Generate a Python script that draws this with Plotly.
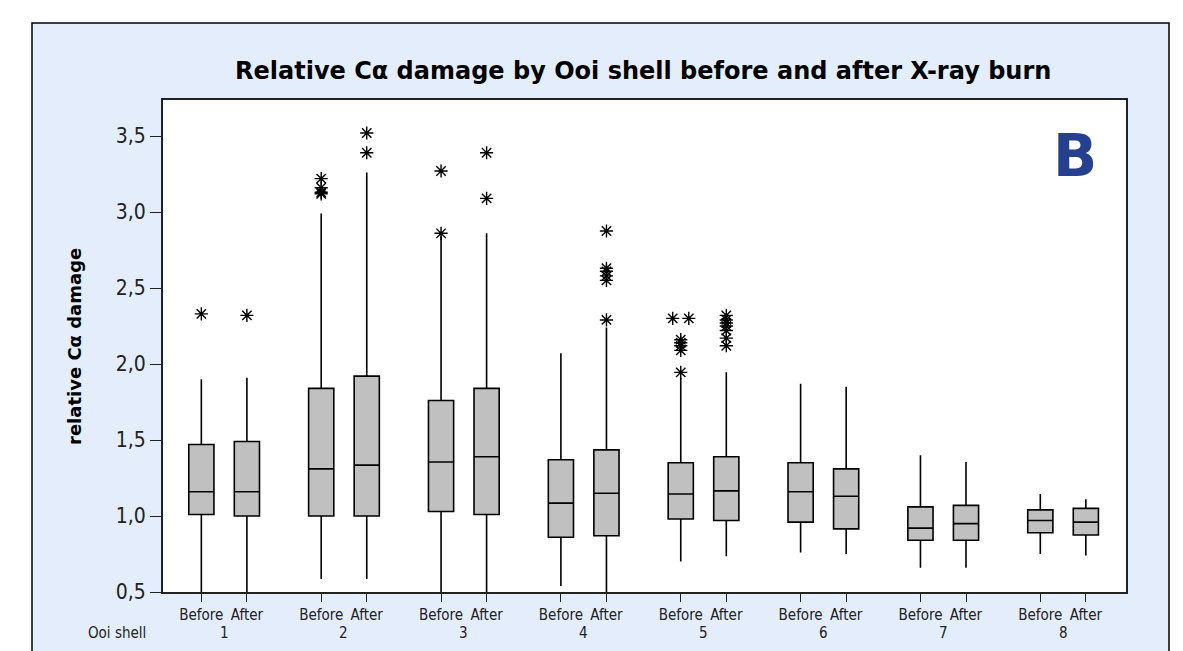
import plotly.graph_objects as go

# ---------------- data ----------------
shells = [1, 2, 3, 4, 5, 6, 7, 8]
group_labels = ["1", "2", "3", "4", "5", "6", "7", "8"]
phase_labels = ["Before", "After"]

before_low = [0.50, 0.585, 0.50, 0.54, 0.70, 0.76, 0.66, 0.75]
before_q1 = [1.01, 1.00, 1.03, 0.86, 0.98, 0.96, 0.84, 0.89]
before_median = [1.16, 1.31, 1.355, 1.085, 1.145, 1.16, 0.92, 0.97]
before_q3 = [1.47, 1.84, 1.76, 1.37, 1.35, 1.35, 1.06, 1.04]
before_high = [1.90, 2.99, 2.84, 2.07, 1.91, 1.87, 1.40, 1.145]

after_low = [0.50, 0.585, 0.50, 0.50, 0.735, 0.75, 0.66, 0.74]
after_q1 = [1.00, 1.00, 1.01, 0.87, 0.97, 0.915, 0.84, 0.875]
after_median = [1.16, 1.335, 1.39, 1.15, 1.165, 1.13, 0.95, 0.96]
after_q3 = [1.49, 1.92, 1.84, 1.435, 1.39, 1.31, 1.07, 1.05]
after_high = [1.91, 3.26, 2.86, 2.24, 1.945, 1.85, 1.355, 1.11]

# outliers: (shell, value, side-by-side slot)
before_out_shell = [1, 2, 2, 2, 2, 3, 3, 5, 5, 5, 5, 5, 5, 5]
before_out_value = [2.33, 3.22, 3.16, 3.13, 3.12, 3.27, 2.86, 2.30, 2.30, 2.16, 2.14, 2.12, 2.09, 1.945]
before_out_slot = [0, 0, 0, 0, 0, 0, 0, -1, 1, 0, 0, 0, 0, 0]

after_out_shell = [1, 2, 2, 3, 3, 4, 4, 4, 4, 4, 4, 5, 5, 5, 5, 5, 5, 5]
after_out_value = [2.32, 3.52, 3.39, 3.39, 3.09, 2.875, 2.63, 2.61, 2.58, 2.55, 2.29,
                   2.32, 2.29, 2.27, 2.25, 2.22, 2.17, 2.12]
after_out_slot = [0] * 18

y_ticks = [0.5, 1.0, 1.5, 2.0, 2.5, 3.0, 3.5]

# ---------------- layout geometry (screen px) ----------------
W, H = 1183, 651
PL, PR, PT, PB = 163, 1126, 100, 592   # plot area in screen px
OFF = 0.19
BOXW = 0.21
XR = [0.49, 8.525]
YR = [0.5, 3.737]


def px(x):
    return (x - PL) / (PR - PL)


def py(y):
    return (PB - y) / (PB - PT)


FONT = "DejaVu Sans"
FONT_C = "DejaVu Sans Condensed, DejaVu Sans"
fig = go.Figure()

box_style = dict(fillcolor="#C0C0C0", line=dict(color="black", width=1.6),
                 width=BOXW, whiskerwidth=0, boxpoints=False, showlegend=False,
                 hoverinfo="skip")

xb = [s - OFF for s in shells]
xa = [s + OFF for s in shells]

fig.add_trace(go.Box(x=xb, q1=before_q1, median=before_median, q3=before_q3,
                     lowerfence=before_low, upperfence=before_high, **box_style))
fig.add_trace(go.Box(x=xa, q1=after_q1, median=after_median, q3=after_q3,
                     lowerfence=after_low, upperfence=after_high, **box_style))

slot_w = 0.067
fig.add_trace(go.Scatter(
    x=[s - OFF + k * slot_w for s, k in zip(before_out_shell, before_out_slot)]
      + [s + OFF + k * slot_w for s, k in zip(after_out_shell, after_out_slot)],
    y=before_out_value + after_out_value,
    mode="markers",
    marker=dict(symbol="asterisk-open", size=11, color="black",
                line=dict(color="black", width=1.4)),
    showlegend=False, hoverinfo="skip"))

tickvals = []
ticktext = []
for s in shells:
    tickvals += [s - OFF, s + OFF]
    ticktext += phase_labels

shapes = [
    dict(type="rect", xref="paper", yref="paper", layer="below",
         x0=px(32), x1=px(1169), y0=py(680), y1=py(23),
         fillcolor="#E3EDFC", line=dict(color="black", width=1.5)),
    dict(type="rect", xref="paper", yref="paper", layer="below",
         x0=0, x1=1, y0=0, y1=1, fillcolor="white", line=dict(width=0)),
]

annotations = [
    dict(text="<b>Relative Cα damage by Ooi shell before and after X-ray burn</b>",
         xref="paper", yref="paper", x=px(643), y=py(71), showarrow=False,
         xanchor="center", yanchor="middle",
         font=dict(family=FONT, size=24, color="black")),
    dict(text="<b>relative Cα damage</b>", textangle=-90,
         xref="paper", yref="paper", x=px(74), y=py(347), showarrow=False,
         xanchor="center", yanchor="middle",
         font=dict(family=FONT, size=18, color="black")),
    dict(text="<b>B</b>", xref="paper", yref="paper", x=px(1075), y=py(156),
         showarrow=False, xanchor="center", yanchor="middle",
         font=dict(family=FONT, size=58, color="#263F8F")),
    dict(text="Ooi shell", xref="paper", yref="paper", x=px(117), y=py(633),
         showarrow=False, xanchor="center", yanchor="middle",
         font=dict(family=FONT_C, size=15, color="#222222")),
]
for s, lab in zip(shells, group_labels):
    annotations.append(dict(text=lab, xref="x", yref="paper", x=s, y=py(633),
                            showarrow=False, xanchor="center", yanchor="middle",
                            font=dict(family=FONT_C, size=15, color="#222222")))

fig.update_layout(
    width=W, height=H,
    margin=dict(l=PL, r=W - PR, t=PT, b=H - PB),
    paper_bgcolor="white", plot_bgcolor="white",
    separators=", ",
    shapes=shapes, annotations=annotations,
    xaxis=dict(range=XR, tickvals=tickvals, ticktext=ticktext, showgrid=False,
               zeroline=False, showline=True, linecolor="#222222", linewidth=2,
               mirror=True, ticks="outside", ticklen=8, tickwidth=1.3,
               tickcolor="#222222",
               tickfont=dict(family=FONT_C, size=15, color="#222222")),
    yaxis=dict(range=YR, tickvals=y_ticks, tickformat=".1f", showgrid=False,
               zeroline=False, showline=True, linecolor="#222222", linewidth=2,
               mirror=True, ticks="outside", ticklen=11, tickwidth=1.3,
               tickcolor="#222222",
               tickfont=dict(family=FONT_C, size=21, color="#222222")),
)

fig.write_html("out.html",
               config={"displayModeBar": False},
               post_script="document.body.style.margin='0';"
                           "document.body.style.overflow='hidden';")
